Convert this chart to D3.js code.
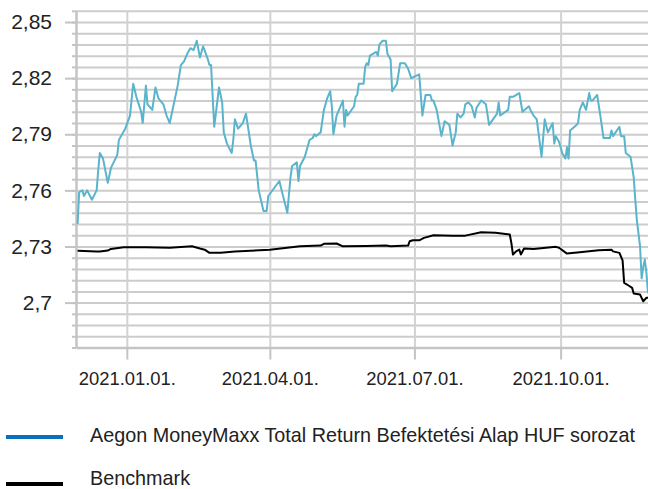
<!DOCTYPE html>
<html>
<head>
<meta charset="utf-8">
<script src="https://cdn.jsdelivr.net/npm/d3@7"></script>
<style>
  body { margin: 0; background: #fff; }
  text { font-family: "Liberation Sans", Arial, sans-serif; fill: #222; }
</style>
</head>
<body>
<div id="chart"></div>
<script>
// fund (blue) series
const fundDates = ["2020-12-01","2020-12-02","2020-12-04","2020-12-05","2020-12-07","2020-12-10","2020-12-13","2020-12-14","2020-12-15","2020-12-17","2020-12-20","2020-12-22","2020-12-26","2020-12-27","2020-12-31",
  "2021-01-03","2021-01-05","2021-01-07","2021-01-10","2021-01-11","2021-01-13","2021-01-14","2021-01-17","2021-01-19","2021-01-21","2021-01-24","2021-01-26","2021-01-28","2021-01-31",
  "2021-02-02","2021-02-04","2021-02-06","2021-02-08","2021-02-10","2021-02-12","2021-02-14","2021-02-16","2021-02-18","2021-02-21","2021-02-22","2021-02-23","2021-02-25","2021-02-28",
  "2021-03-02","2021-03-03","2021-03-05","2021-03-08","2021-03-09","2021-03-10","2021-03-12","2021-03-15","2021-03-17","2021-03-20","2021-03-22","2021-03-23","2021-03-25","2021-03-28","2021-03-30","2021-03-31",
  "2021-04-07","2021-04-09","2021-04-12","2021-04-14","2021-04-15","2021-04-18","2021-04-19","2021-04-20","2021-04-23","2021-04-25","2021-04-26","2021-04-28","2021-04-29","2021-04-30",
  "2021-05-03","2021-05-05","2021-05-07","2021-05-09","2021-05-10","2021-05-11","2021-05-13","2021-05-17","2021-05-18","2021-05-19","2021-05-20","2021-05-24","2021-05-25","2021-05-26","2021-05-27","2021-05-30","2021-05-31",
  "2021-06-01","2021-06-02","2021-06-03","2021-06-07","2021-06-08","2021-06-09","2021-06-11","2021-06-13","2021-06-14","2021-06-16","2021-06-17","2021-06-20","2021-06-22","2021-06-25","2021-06-27","2021-06-29",
  "2021-07-04","2021-07-05","2021-07-06","2021-07-08","2021-07-11","2021-07-12","2021-07-13","2021-07-15","2021-07-18","2021-07-20","2021-07-23","2021-07-25","2021-07-27","2021-07-28","2021-07-30",
  "2021-08-01","2021-08-02","2021-08-04","2021-08-06","2021-08-08","2021-08-09","2021-08-12","2021-08-15","2021-08-17","2021-08-22","2021-08-23","2021-08-24","2021-08-29","2021-08-30",
  "2021-09-01","2021-09-05","2021-09-07","2021-09-11","2021-09-12","2021-09-14","2021-09-16","2021-09-19","2021-09-21","2021-09-23","2021-09-26","2021-09-27","2021-09-28","2021-09-30",
  "2021-10-02","2021-10-04","2021-10-05","2021-10-06","2021-10-07","2021-10-11","2021-10-12","2021-10-13","2021-10-15","2021-10-17","2021-10-19","2021-10-20","2021-10-21","2021-10-24","2021-10-26","2021-10-28",
  "2021-11-01","2021-11-02","2021-11-03","2021-11-07","2021-11-08","2021-11-10","2021-11-11","2021-11-14","2021-11-16","2021-11-17","2021-11-18","2021-11-19","2021-11-20","2021-11-21","2021-11-22","2021-11-23","2021-11-24","2021-11-25"];
const fundValues = [2.742,2.759,2.760,2.757,2.760,2.755,2.760,2.771,2.780,2.777,2.764,2.772,2.779,2.787,2.793,
  2.800,2.817,2.810,2.802,2.796,2.816,2.806,2.803,2.815,2.809,2.806,2.800,2.796,2.808,
  2.816,2.827,2.829,2.833,2.836,2.835,2.840,2.831,2.837,2.830,2.827,2.827,2.794,2.815,
  2.807,2.791,2.785,2.780,2.787,2.798,2.793,2.796,2.801,2.784,2.776,2.776,2.760,2.749,2.749,2.757,
  2.765,2.758,2.748,2.767,2.773,2.775,2.765,2.773,2.778,2.784,2.787,2.788,2.790,2.789,
  2.791,2.803,2.809,2.813,2.805,2.790,2.800,2.808,2.794,2.803,2.800,2.805,2.810,2.811,2.817,2.817,2.826,
  2.828,2.827,2.832,2.834,2.832,2.838,2.840,2.840,2.833,2.830,2.813,2.817,2.828,2.828,2.825,2.820,
  2.822,2.811,2.800,2.811,2.811,2.808,2.808,2.803,2.789,2.797,2.795,2.784,2.791,2.801,2.799,
  2.801,2.806,2.807,2.805,2.799,2.804,2.808,2.806,2.795,2.801,2.807,2.800,2.803,2.810,
  2.810,2.812,2.802,2.805,2.803,2.800,2.798,2.778,2.798,2.791,2.796,2.785,2.789,2.786,
  2.780,2.777,2.783,2.777,2.792,2.795,2.796,2.803,2.807,2.803,2.812,2.808,2.808,2.811,2.800,2.788,
  2.788,2.792,2.789,2.794,2.789,2.789,2.780,2.778,2.767,2.755,2.744,2.737,2.730,2.713,2.719,2.723,2.716,2.705];

// benchmark (black) series
const benchDates = ["2020-12-01","2020-12-13","2020-12-15","2020-12-20","2020-12-22","2020-12-30","2021-01-13","2021-01-28","2021-02-11","2021-02-16","2021-02-19","2021-02-22","2021-03-01","2021-03-10",
  "2021-04-01","2021-04-20","2021-05-03","2021-05-05","2021-05-13","2021-05-17","2021-06-01","2021-06-13","2021-06-16","2021-06-27","2021-06-28","2021-06-30","2021-07-04","2021-07-07","2021-07-13","2021-07-25",
  "2021-08-02","2021-08-12","2021-08-21","2021-08-30","2021-08-31","2021-09-01","2021-09-03","2021-09-05","2021-09-06","2021-09-08","2021-09-14","2021-09-28","2021-09-30",
  "2021-10-05","2021-10-13","2021-10-25","2021-11-02","2021-11-03","2021-11-07","2021-11-09","2021-11-10","2021-11-13","2021-11-15","2021-11-16","2021-11-20","2021-11-22","2021-11-24","2021-11-25"];
const benchValues = [2.7277,2.7273,2.7273,2.7278,2.7287,2.7296,2.7296,2.7293,2.7301,2.7289,2.7283,2.7266,2.7266,2.7273,
  2.7283,2.7301,2.7305,2.7314,2.7316,2.7301,2.7303,2.7305,2.7301,2.7305,2.7328,2.7333,2.7333,2.7346,2.7360,2.7358,
  2.7358,2.7376,2.7373,2.7364,2.7319,2.7257,2.7274,2.7283,2.7257,2.7289,2.7287,2.7298,2.7293,
  2.7262,2.7269,2.7280,2.7283,2.7274,2.7266,2.7226,2.7106,2.7090,2.7079,2.7049,2.7043,2.7007,2.7026,2.7026];

// axis ticks
const xTickDates = ["2021-01-01","2021-04-01","2021-07-01","2021-10-01"];
const yTicks = [2.7, 2.73, 2.76, 2.79, 2.82, 2.85];
const yTickLabels = ["2,7", "2,73", "2,76", "2,79", "2,82", "2,85"];
const yMinorStep = 0.006;
const yDomain = [2.676, 2.856];
const xDomain = ["2020-11-30", "2021-11-25"];

const legendNames = ["Aegon MoneyMaxx Total Return Befektetési Alap HUF sorozat", "Benchmark"];

const W = 648, H = 489;
const margin = { top: 10.8, right: 0, bottom: 141.5, left: 76 },
  width = W - margin.left - margin.right,
  height = H - margin.top - margin.bottom;

const parse = d3.timeParse("%Y-%m-%d");

const svg = d3.select("#chart").append("svg")
  .attr("width", W)
  .attr("height", H);

const g = svg.append("g")
  .attr("transform", `translate(${margin.left},${margin.top})`);

const x = d3.scaleTime().domain(xDomain.map(parse)).range([0, width]);
const y = d3.scaleLinear().domain(yDomain).range([height, 0]);

const minorTicks = d3.range(0, Math.round((yDomain[1] - yDomain[0]) / yMinorStep) + 1)
  .map(i => yDomain[0] + i * yMinorStep);

// horizontal grid
g.append("g")
  .call(d3.axisLeft(y).tickValues(minorTicks.slice(1)).tickSize(-width).tickFormat(""))
  .call(s => s.select(".domain").remove())
  .call(s => s.selectAll("line").attr("stroke", "#cccccc").attr("stroke-width", 2));

// vertical grid
g.append("g")
  .call(d3.axisBottom(x).tickValues(xTickDates.map(parse)).tickSize(height).tickFormat(""))
  .call(s => s.select(".domain").remove())
  .call(s => s.selectAll("line").attr("stroke", "#d2d2d2").attr("stroke-width", 2));

// minor y ticks
g.append("g")
  .call(d3.axisLeft(y).tickValues(minorTicks).tickSize(4).tickFormat(""))
  .call(s => s.select(".domain").remove())
  .call(s => s.selectAll("line").attr("stroke", "#c4c4c4").attr("stroke-width", 2));

// major y axis
g.append("g")
  .call(d3.axisLeft(y).tickValues(yTicks).tickSize(11).tickSizeOuter(0).tickPadding(13)
    .tickFormat((d, i) => yTickLabels[i]))
  .call(s => s.select(".domain").attr("stroke", "#c4c4c4").attr("stroke-width", 2.5))
  .call(s => s.selectAll("line").attr("stroke", "#c4c4c4").attr("stroke-width", 2))
  .call(s => s.selectAll("text").attr("font-size", "21px").attr("fill", "#222"));

// x axis
g.append("g")
  .attr("transform", `translate(0,${height})`)
  .call(d3.axisBottom(x).tickValues(xTickDates.map(parse)).tickSize(12).tickSizeOuter(0).tickPadding(12)
    .tickFormat(d3.timeFormat("%Y.%m.%d.")))
  .call(s => s.select(".domain").attr("stroke", "#c4c4c4").attr("stroke-width", 2.5))
  .call(s => s.selectAll("line").attr("stroke", "#c4c4c4").attr("stroke-width", 2))
  .call(s => s.selectAll("text").attr("font-size", "18.4px").attr("fill", "#222"));

const line = d3.line()
  .x(d => x(d.date))
  .y(d => y(d.value));

const fund = fundDates.map((d, i) => ({ date: parse(d), value: fundValues[i] }));
const bench = benchDates.map((d, i) => ({ date: parse(d), value: benchValues[i] }));

g.append("path")
  .datum(bench)
  .attr("fill", "none")
  .attr("stroke", "#000")
  .attr("stroke-width", 2)
  .attr("stroke-linejoin", "round")
  .attr("d", line);

g.append("path")
  .datum(fund)
  .attr("fill", "none")
  .attr("stroke", "#5ab4cb")
  .attr("stroke-width", 2)
  .attr("stroke-linejoin", "round")
  .attr("d", line);

// legend
const legend = svg.append("g");
const legendColors = ["#0a70be", "#000"];
const legendY = [437, 484];
legend.selectAll("line")
  .data(legendNames)
  .join("line")
  .attr("x1", 6).attr("x2", 63)
  .attr("y1", (d, i) => legendY[i]).attr("y2", (d, i) => legendY[i])
  .attr("stroke", (d, i) => legendColors[i])
  .attr("stroke-width", 4);
legend.selectAll("text")
  .data(legendNames)
  .join("text")
  .attr("x", 90)
  .attr("y", (d, i) => i === 0 ? 442 : 484.5)
  .attr("font-size", "19.8px")
  .text(d => d);
</script>
</body>
</html>
